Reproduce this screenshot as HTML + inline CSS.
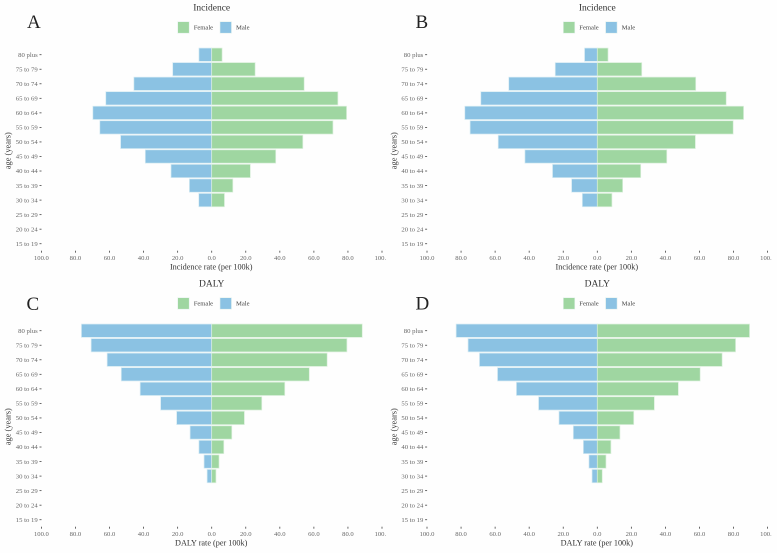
<!DOCTYPE html>
<html lang="en">
<head>
<meta charset="utf-8">
<title>Population pyramids of incidence and DALY rates</title>
<style>
html,body{margin:0;padding:0;background:#fefefe;}
svg{display:block;font-family:"Liberation Serif",serif;}
</style>
</head>
<body>
<svg id="figure" width="777" height="553" viewBox="0 0 777 553" xmlns="http://www.w3.org/2000/svg"></svg>
<script>
const ageGroups = ["80 plus","75 to 79","70 to 74","65 to 69","60 to 64","55 to 59","50 to 54","45 to 49","40 to 44","35 to 39","30 to 34","25 to 29","20 to 24","15 to 19"];
const xTicks = [-100,-80,-60,-40,-20,0,20,40,60,80,100];
const legendLabels = ["Female","Male"];

const maleA = [7.5,22.9,45.7,62.2,69.8,65.7,53.5,39,23.9,13.1,7.6,0,0,0];
const femaleA = [6.1,25.5,54.3,74.1,79.2,71.2,53.5,37.6,22.7,12.4,7.5,0,0,0];
const maleB = [7.5,24.7,52,68.4,77.8,74.7,58.2,42.5,26.3,15.1,8.8,0,0,0];
const femaleB = [6.3,26.1,57.8,75.7,85.9,79.8,57.6,40.8,25.5,14.9,8.6,0,0,0];
const maleC = [76.5,70.8,61.4,53.1,42,30,20.6,12.7,7.5,4.5,2.7,0,0,0];
const femaleC = [88.4,79.4,67.8,57.3,42.9,29.4,19.2,11.8,7.1,4.3,2.5,0,0,0];
const maleD = [82.9,75.9,69.2,58.6,47.5,34.5,22.5,14.1,8.2,4.9,3.1,0,0,0];
const femaleD = [89.4,81.2,73.3,60.4,47.6,33.5,21.4,13.3,8,5.1,2.9,0,0,0];

const NS = "http://www.w3.org/2000/svg";
const root = document.getElementById("figure");
const FEMALE = "#9fd6a1";
const MALE = "#8bc2e3";
const UNIT = 1.703;
const STEP = 14.54;

function make(parent, tag, attrs, text) {
  const el = document.createElementNS(NS, tag);
  for (const k in attrs) el.setAttribute(k, attrs[k]);
  if (text !== undefined) el.textContent = text;
  parent.appendChild(el);
  return el;
}

function drawPanel(cfg) {
  const xScale = v => cfg.zeroX + v * UNIT;
  const yScale = i => cfg.topY + i * STEP;
  const id = "clip-" + cfg.letter;

  const g = make(root, "g", {});
  
  

  const defs = make(g, "defs", {});
  const clip = make(defs, "clipPath", {id: id});
  make(clip, "rect", {x: cfg.zeroX - 212, y: cfg.topY - 60, width: 212 + cfg.clipRight, height: 280});

  const letter = make(g, "text", {x: cfg.letterX, y: cfg.letterY, "font-size": 19, fill: "#222", "text-anchor": "start"}, cfg.letter);
  
  

  const title = make(g, "text", {x: cfg.zeroX, y: cfg.topY - 44, "font-size": 9.5, fill: "#333", "text-anchor": "middle"}, cfg.title);
  
  

  const swatchX = [-34, 8.3];
  const legendText = [-18, 24.3];
  legendLabels.forEach((name, i) => {
    const sw = make(g, "rect", {x: cfg.zeroX + swatchX[i], y: cfg.topY - 33, width: 11.5, height: 11.5, fill: i === 0 ? FEMALE : MALE, stroke: "#e6f2ee", "stroke-width": 0.6});
    
    
    const tx = make(g, "text", {x: cfg.zeroX + legendText[i], y: cfg.topY - 25, "font-size": 6.6, fill: "#444"}, name);
    
    
  });

  const bh = 13.3;
  ageGroups.forEach((age, i) => {
    const y = yScale(i);

    const tick = make(g, "rect", {x: cfg.zeroX - 172.2, y: y - 0.4, width: 2, height: 0.8, fill: "#444"});
    
    

    const lab = make(g, "text", {x: cfg.zeroX - 174, y: y + 2.2, "font-size": 6.7, fill: "#666", "text-anchor": "end"}, age);
    
    

    if (cfg.male[i] > 0) {
      const m = make(g, "rect", {x: xScale(-cfg.male[i]), y: y - bh / 2, width: cfg.male[i] * UNIT, height: bh, fill: MALE, stroke: "#d8ecf3", "stroke-width": 0.7});
      
      
    }
    if (cfg.female[i] > 0) {
      const f = make(g, "rect", {x: xScale(0), y: y - bh / 2, width: cfg.female[i] * UNIT, height: bh, fill: FEMALE, stroke: "#dcf0dd", "stroke-width": 0.7});
      
      
    }
  });

  const axisY = cfg.topY + 197.6;
  const tickGroup = make(g, "g", {"clip-path": "url(#" + id + ")"});
  
  
  xTicks.forEach(v => {
    const x = xScale(v);
    const t = make(tickGroup, "rect", {x: x - 0.4, y: axisY - 1.6, width: 0.8, height: 2, fill: "#444"});
    
    
    const l = make(tickGroup, "text", {x: x, y: axisY + 7.7, "font-size": 6.6, fill: "#666", "text-anchor": "middle"}, Math.abs(v).toFixed(1));
    
    
  });

  const xt = make(g, "text", {x: cfg.zeroX - 0.5, y: axisY + 17.3, "font-size": 8.2, fill: "#333", "text-anchor": "middle"}, cfg.xLabel);
  
  

  const yx = cfg.zeroX - 201;
  const yy = cfg.topY + 96;
  const yt = make(g, "text", {x: yx, y: yy, "font-size": 8.4, fill: "#333", "text-anchor": "middle", transform: "rotate(-90 " + yx + " " + yy + ")"}, "age (years)");
  
  
}

drawPanel({letter: "A", title: "Incidence", xLabel: "Incidence rate (per 100k)", male: maleA, female: femaleA, zeroX: 211.7, topY: 54.7, clipRight: 174, letterX: 27, letterY: 28.2});
drawPanel({letter: "B", title: "Incidence", xLabel: "Incidence rate (per 100k)", male: maleB, female: femaleB, zeroX: 597.3, topY: 54.7, clipRight: 174, letterX: 415.5, letterY: 28.2});
drawPanel({letter: "C", title: "DALY", xLabel: "DALY rate (per 100k)", male: maleC, female: femaleC, zeroX: 211.7, topY: 330.7, clipRight: 174, letterX: 26.5, letterY: 310});
drawPanel({letter: "D", title: "DALY", xLabel: "DALY rate (per 100k)", male: maleD, female: femaleD, zeroX: 597.3, topY: 330.7, clipRight: 174, letterX: 415.5, letterY: 309.7});
</script>
</body>
</html>
